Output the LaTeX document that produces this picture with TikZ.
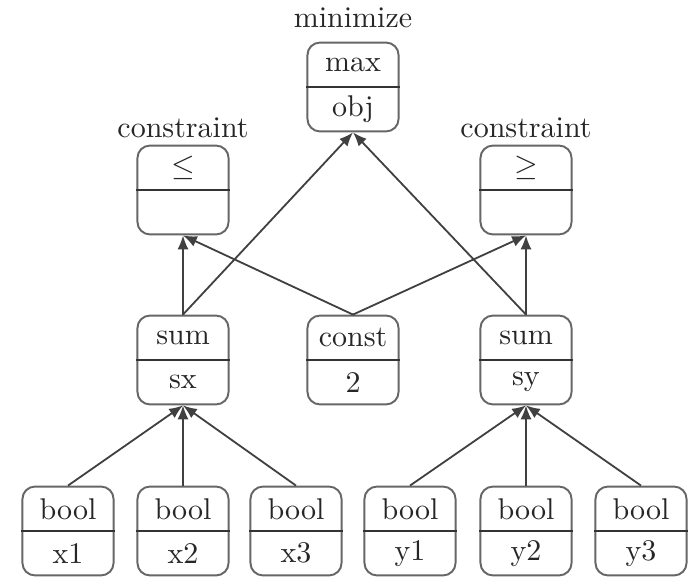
\documentclass[tikz,border=0pt]{standalone}
\usetikzlibrary{arrows.meta}
\begin{document}
\begin{tikzpicture}[x=0.36pt,y=-0.36pt,
  every node/.style={font=\fontsize{10.8}{13}\selectfont},
  box/.style={draw=black!60, line width=0.7pt, rounded corners=4.5pt,
    minimum width=32.8pt, minimum height=32pt, inner sep=0pt},
  lbl/.style={inner sep=0pt, text=black!85},
  edge/.style={draw=black!75, line width=0.65pt, -{Latex[length=5pt,width=4pt]}},
  divider/.style={draw=black!80, line width=0.9pt}]
\useasboundingbox (0,0) rectangle (691,579);
\newcommand{\twobox}[5]{%
  \node[box] (#1) at (#2,#3) {};
  \draw[divider] (#1.west) -- (#1.east);
  \node[lbl] (#1-t) at ([yshift=8pt]#1.center) {#4};
  \node[lbl] (#1-b) at ([yshift=-8pt]#1.center) {#5};}
\twobox{max}{353}{87}{max}{obj}
\twobox{cle}{183}{190}{$\leq$}{}
\twobox{cge}{526}{190}{$\geq$}{}
\twobox{sx}{183}{360}{sum}{sx}
\twobox{cst}{353}{360}{const}{2}
\twobox{sy}{526}{360}{sum}{sy}
\twobox{x1}{68}{531}{bool}{x1}
\twobox{x2}{183}{531}{bool}{x2}
\twobox{x3}{296}{531}{bool}{x3}
\twobox{y1}{410}{531}{bool}{y1}
\twobox{y2}{526}{531}{bool}{y2}
\twobox{y3}{641}{531}{bool}{y3}
\node[lbl] (minlab) at (353,18) {minimize};
\node[lbl] (c1lab) at (183,128) {constraint};
\node[lbl] (c2lab) at (526,128) {constraint};
\draw[edge] (x1.north) -- (sx.south);
\draw[edge] (x2.north) -- (sx.south);
\draw[edge] (x3.north) -- (sx.south);
\draw[edge] (y1.north) -- (sy.south);
\draw[edge] (y2.north) -- (sy.south);
\draw[edge] (y3.north) -- (sy.south);
\draw[edge] (sx.north) -- (cle.south);
\draw[edge] (sx.north) -- (max.south);
\draw[edge] (cst.north) -- (cle.south);
\draw[edge] (cst.north) -- (cge.south);
\draw[edge] (sy.north) -- (cge.south);
\draw[edge] (sy.north) -- (max.south);
\end{tikzpicture}
\end{document}
